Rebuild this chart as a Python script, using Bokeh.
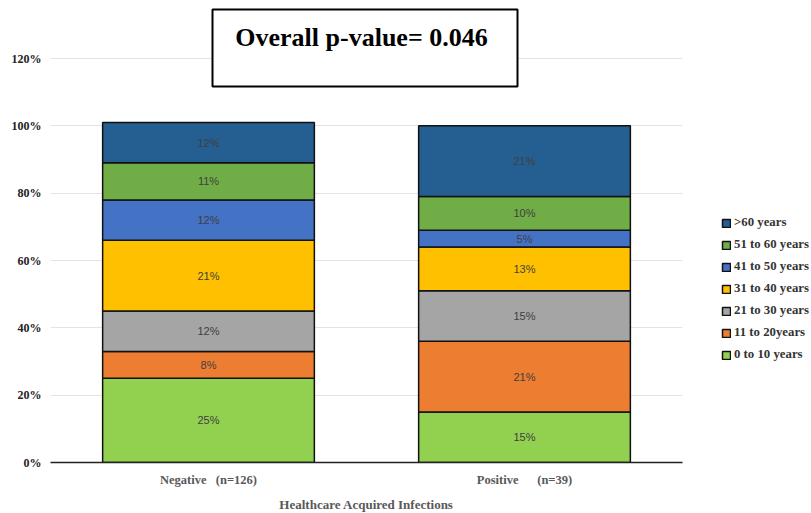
from bokeh.plotting import figure
from bokeh.models import (ColumnDataSource, Range1d, FactorRange, FixedTicker,
                          Legend, LegendItem, PrintfTickFormatter)
from bokeh.core.properties import value
from bokeh.embed import file_html
from bokeh.resources import INLINE

# Infection groups (x axis)
groups = ["Negative\u00a0\u00a0\u00a0(n=126)", "Positive\u00a0\u00a0\u00a0\u00a0\u00a0\u00a0(n=39)"]

# Age bands, bottom to top of each stacked bar
age_bands = ["0 to 10 years", "11 to 20years", "21 to 30 years", "31 to 40 years",
             "41 to 50 years", "51 to 60 years", ">60 years"]
band_colors = ["#92D050", "#ED7D31", "#A5A5A5", "#FFC000",
               "#4472C4", "#70AD47", "#255E91"]

# Percentage of patients per age band
negative_pct = [25, 8, 12, 21, 12, 11, 12]
positive_pct = [15, 21, 15, 13, 5, 10, 21]

y_ticks = [0, 20, 40, 60, 80, 100, 120]
p_value_text = "Overall p-value= 0.046"
x_title = "Healthcare Acquired Infections"

# Layout (pixels)
LEFT, RIGHT, BOTTOM = 50, 129, 51
FRAME_W, FRAME_H = 632, 462
px_per_pct = 404 / 120.0
y_top = FRAME_H / px_per_pct

serif = "Liberation Serif"

p = figure(frame_width=FRAME_W, frame_height=FRAME_H, x_range=FactorRange(*groups),
           y_range=Range1d(0, y_top), output_backend="svg",
           toolbar_location=None, min_border_left=LEFT, min_border_right=RIGHT,
           min_border_top=0, min_border_bottom=BOTTOM)
p.outline_line_color = None
p.background_fill_color = "white"

src = {"group": groups}
keys = []
for i, band in enumerate(age_bands):
    k = f"b{i}"
    keys.append(k)
    src[k] = [negative_pct[i], positive_pct[i]]
source = ColumnDataSource(src)

renderers = p.vbar_stack(keys, x="group", width=0.67, source=source,
                         color=band_colors, line_color="#111111", line_width=1.5)
for r, c in zip(renderers, band_colors):
    r.glyph.fill_color = c
    r.glyph.line_color = "#111111"

# Percentage labels in the middle of each segment
lx, ly, lt = [], [], []
for vals, g in ((negative_pct, groups[0]), (positive_pct, groups[1])):
    base = 0
    for v in vals:
        lx.append(g)
        ly.append(base + v / 2.0)
        lt.append(f"{v}%")
        base += v
p.text(x=lx, y=ly, text=lt, text_align="center", text_baseline="middle",
       text_font=value("Liberation Sans"), text_font_size="11px",
       text_color="#404040")

# p-value box above the bars
def px_to_x(px):
    return (px - LEFT) / FRAME_W * len(groups)

def py_to_y(py):
    return (FRAME_H - py) / px_per_pct

p.quad(left=px_to_x(212), right=px_to_x(517), top=py_to_y(9), bottom=py_to_y(86),
       fill_color="white", line_color="black", line_width=2)
p.text(x=[px_to_x(361)], y=[py_to_y(37)], text=[p_value_text],
       text_align="center", text_baseline="middle", text_font=value(serif),
       text_font_style="bold", text_font_size="26px", text_color="black")

# Axes
p.yaxis.ticker = FixedTicker(ticks=y_ticks)
p.yaxis.formatter = PrintfTickFormatter(format="%d%%")
p.yaxis.axis_line_color = None
p.yaxis.major_tick_line_color = None
p.yaxis.minor_tick_line_color = None
p.yaxis.major_tick_out = 0
p.yaxis.major_label_standoff = 9
p.yaxis.major_label_text_font = serif
p.yaxis.major_label_text_font_style = "bold"
p.yaxis.major_label_text_font_size = "12px"
p.yaxis.major_label_text_color = "#222222"

p.xaxis.axis_line_color = "#222222"
p.xaxis.axis_line_width = 1.5
p.xaxis.major_tick_line_color = None
p.xaxis.major_tick_out = 0
p.xaxis.major_tick_in = 0
p.xaxis.major_label_standoff = 10
p.xaxis.major_label_text_font = serif
p.xaxis.major_label_text_font_style = "bold"
p.xaxis.major_label_text_font_size = "12.5px"
p.xaxis.major_label_text_color = "#595959"
p.xaxis.axis_label = x_title
p.xaxis.axis_label_standoff = 7
p.xaxis.axis_label_text_font = serif
p.xaxis.axis_label_text_font_style = "bold"
p.xaxis.axis_label_text_font_size = "13px"
p.xaxis.axis_label_text_color = "#595959"

p.xgrid.grid_line_color = None
p.ygrid.grid_line_color = "#E3E3E3"
p.ygrid.grid_line_width = 1
p.ygrid.ticker = FixedTicker(ticks=y_ticks)

# Legend in the right margin, top band first
items = [LegendItem(label=band, renderers=[r])
         for band, r in reversed(list(zip(age_bands, renderers)))]
legend = Legend(items=items, location=(39, 100), orientation="vertical",
                glyph_width=10, glyph_height=10, label_standoff=3,
                label_height=12, spacing=7, padding=0, margin=0,
                border_line_color=None, background_fill_alpha=0,
                label_text_font=serif, label_text_font_style="bold",
                label_text_font_size="12.8px", label_text_color="#333333")
p.add_layout(legend, "right")

open("out.html", "w").write(file_html(p, INLINE))
